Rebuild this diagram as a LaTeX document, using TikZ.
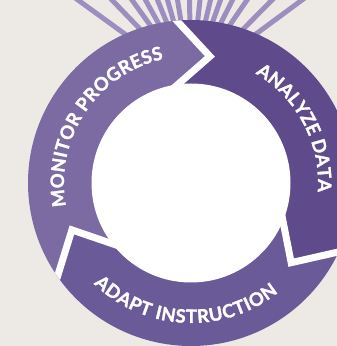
\documentclass[tikz,border=0pt]{standalone}
\usepackage{fontspec}
\setmainfont{Lato}[BoldFont={Lato Bold}, BoldFeatures={FakeBold=1.5}]
\usetikzlibrary{decorations.text,calc}
\definecolor{bgcol}{HTML}{EDEAE6}
\definecolor{raycol}{HTML}{9C8FC0}
\definecolor{monitorcol}{HTML}{7B6BA2}
\definecolor{analyzecol}{HTML}{5F4B8C}
\definecolor{adaptcol}{HTML}{6A5A98}
\newcommand{\ringfont}{\fontsize{18.5}{18.5}\selectfont\bfseries}
\begin{document}
\begin{tikzpicture}[x=1pt,y=1pt,
  ray/.style={raycol, line width=5pt},
  gap/.style={white, line width=7pt, line join=miter, miter limit=10},
  ringlabel/.style={decorate, decoration={text along path, text align={fit to path}, text color=white}}
]
\fill[bgcol] (0,0) rectangle (337,346);
\useasboundingbox (0,0) rectangle (337,346);
\begin{scope}
\clip (0,0) rectangle (337,346);
\begin{scope}[shift={(191,163)}]
  % sunburst rays behind the cycle
  \coordinate (O) at (0,101);
  \foreach \dx in {-113,-79,-59,-45.5,-33.5,-23.5,-13.5,-1.5,9,19.5,29.5,41.5,56,81,111} {
    \draw[ray] (O) -- ($(O)!1.3!(\dx,183)$);
  }
  % boundary points: outer end, chevron tip, inner end
  \coordinate (b1o) at (95:163);   \coordinate (b1t) at (81.5:128);  \coordinate (b1i) at (98:99);
  \coordinate (b2o) at (-25:163);  \coordinate (b2t) at (-38.5:128); \coordinate (b2i) at (-22:99);
  \coordinate (b3o) at (215:163);  \coordinate (b3t) at (201.5:128); \coordinate (b3i) at (218:99);
  % three arrow segments of the cycle
  \fill[monitorcol] (b3o) -- (b3t) -- (b3i) arc[start angle=218, end angle=98, radius=99]
     -- (b1t) -- (b1o) arc[start angle=95, end angle=215, radius=163] -- cycle;
  \fill[analyzecol] (b1o) -- (b1t) -- (b1i) arc[start angle=98, end angle=-22, radius=99]
     -- (b2t) -- (b2o) arc[start angle=-25, end angle=95, radius=163] -- cycle;
  \fill[adaptcol] (b2o) -- (b2t) -- (b2i) arc[start angle=-22, end angle=-142, radius=99]
     -- (b3t) -- (b3o) arc[start angle=-145, end angle=-25, radius=163] -- cycle;
  % white centre
  \fill[white] (0,0) circle (99.5);
  % white gaps between the segments
  \begin{scope}
    \clip (0,0) circle (163);
    \draw[gap] ($(b1t)!1.2!(b1o)$) -- (b1t) -- ($(b1t)!1.3!(b1i)$);
    \draw[gap] ($(b2t)!1.2!(b2o)$) -- (b2t) -- ($(b2t)!1.3!(b2i)$);
    \draw[gap] ($(b3t)!1.2!(b3o)$) -- (b3t) -- ($(b3t)!1.3!(b3i)$);
  \end{scope}
  % labels
  \path[ringlabel, decoration={text={|\ringfont|MONITOR PROGRESS}}]
    (190.5:127) arc[start angle=190.5, end angle=102.5, radius=127];
  \path[ringlabel, decoration={text={|\ringfont|ANALYZE DATA}}]
    (59.5:127) arc[start angle=59.5, end angle=-4, radius=127];
  \path[ringlabel, decoration={text={|\ringfont|ADAPT INSTRUCTION}}]
    (226:140) arc[start angle=226, end angle=308.5, radius=140];
\end{scope}
\end{scope}
\end{tikzpicture}
\end{document}
